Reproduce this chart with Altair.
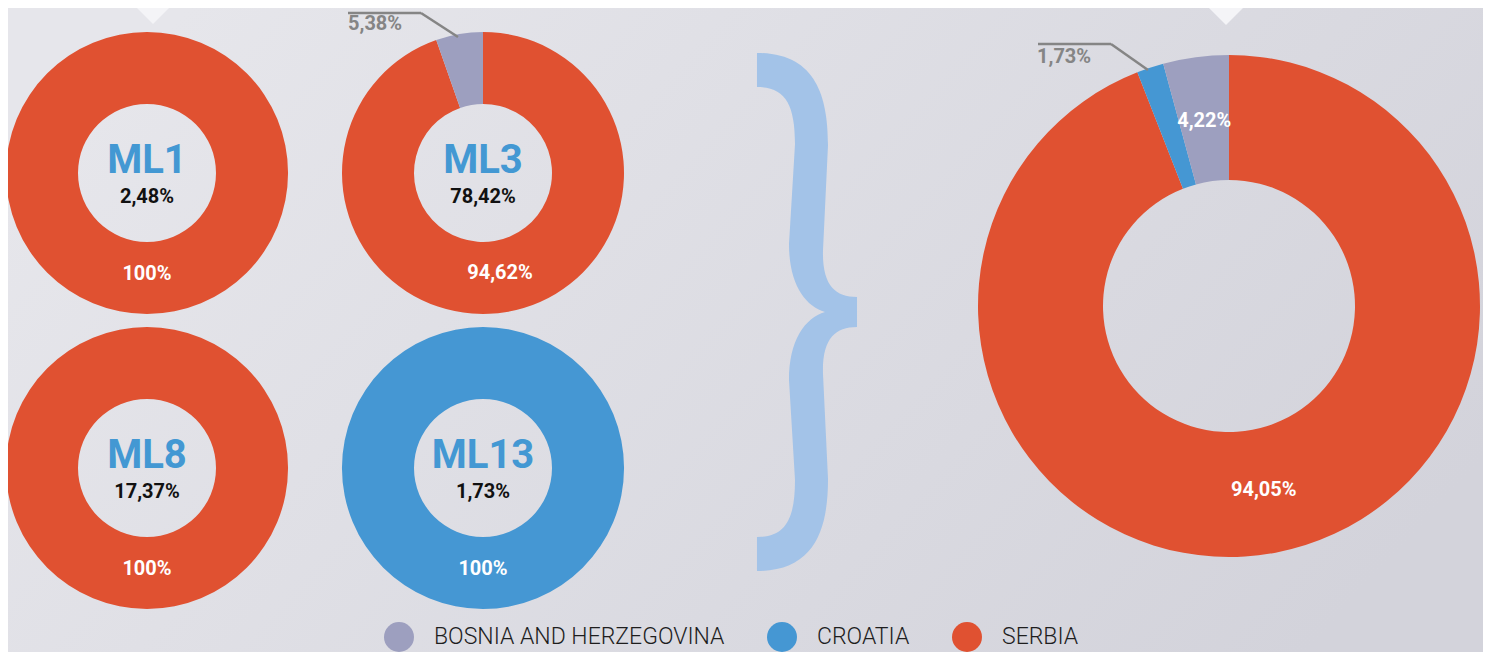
import altair as alt
import pandas as pd

# ---------------- data ----------------
countries = ["BOSNIA AND HERZEGOVINA", "CROATIA", "SERBIA"]
country_colors = ["#9d9fbf", "#4597d3", "#e05131"]

ml_names = ["ML1", "ML3", "ML8", "ML13"]
ml_shares = [2.48, 78.42, 17.37, 1.73]

donut_names = ["ML1", "ML3", "ML8", "ML13", "TOTAL"]
serbia_pct = [100.0, 94.62, 100.0, 0.0, 94.05]
croatia_pct = [0.0, 0.0, 0.0, 100.0, 1.73]
bosnia_pct = [0.0, 5.38, 0.0, 0.0, 4.22]

# slices whose value is written outside the ring with a leader line
outside_slices = [("ML3", "BOSNIA AND HERZEGOVINA"), ("TOTAL", "CROATIA")]

# ---------------- layout (page pixels) ----------------
OFF = 8  # page margin
W, H = 1491 - 2 * OFF, 660 - 2 * OFF
CENTERS = {"ML1": (147, 173), "ML3": (483, 173), "ML8": (147, 468),
           "ML13": (483, 468), "TOTAL": (1229, 306)}
OUT_LABELS = {
    ("ML3", "BOSNIA AND HERZEGOVINA"): {"tx": 348, "ty": 24,
                                        "line": [(348, 13), (421, 13), (458, 37)]},
    ("TOTAL", "CROATIA"): {"tx": 1037, "ty": 57,
                           "line": [(1038, 44), (1111, 44), (1148, 70)]},
}
FONT = "Roboto"


def fmt(v):
    return "100%" if v == 100 else f"{v:.2f}".replace(".", ",") + "%"


rows = []
for i, d in enumerate(donut_names):
    cum = 0.0
    for c, v in (("SERBIA", serbia_pct[i]), ("CROATIA", croatia_pct[i]),
                 ("BOSNIA AND HERZEGOVINA", bosnia_pct[i])):
        if v <= 0:
            continue
        cx, cy = CENTERS[d]
        rows.append({"donut": d, "country": c, "value": v, "start": cum,
                     "end": cum + v, "mid": cum + v / 2, "label": fmt(v),
                     "cx": cx - OFF, "cy": cy - OFF,
                     "outside": (d, c) in outside_slices})
        cum += v
df = pd.DataFrame(rows)
df_small = df[df.donut != "TOTAL"]
df_big = df[df.donut == "TOTAL"]

out_rows, seg_rows = [], []
for (d, c), lay in OUT_LABELS.items():
    r = df[(df.donut == d) & (df.country == c)].iloc[0]
    out_rows.append({"label": r["label"], "tx": lay["tx"] - OFF, "ty": lay["ty"] - OFF})
    pts = lay["line"]
    for (x1, y1), (x2, y2) in zip(pts[:-1], pts[1:]):
        seg_rows.append({"x1": x1 - OFF, "y1": y1 - OFF, "x2": x2 - OFF, "y2": y2 - OFF})
df_out = pd.DataFrame(out_rows)
df_seg = pd.DataFrame(seg_rows)

df_center = pd.DataFrame({
    "name": ml_names,
    "share": [fmt(v) for v in ml_shares],
    "cx": [CENTERS[n][0] - OFF for n in ml_names],
    "cy": [CENTERS[n][1] - OFF for n in ml_names],
})

# ---------------- encodings ----------------
theta_scale = alt.Scale(domain=[0, 100], range=[0, 6.283185307179586])
color_scale = alt.Scale(domain=countries, range=country_colors)
X = alt.X("cx:Q", scale=None, axis=None)
Y = alt.Y("cy:Q", scale=None, axis=None)

legend = alt.Legend(title=None, orient="none", legendX=376, legendY=614,
                    direction="horizontal", symbolType="circle", symbolSize=900,
                    symbolStrokeWidth=0, symbolOpacity=1, labelFont=FONT,
                    labelFontWeight=300, labelFontSize=23, labelColor="#1e1e1e",
                    labelOffset=20, columnPadding=42, labelLimit=0, padding=0)

bg = alt.Chart(pd.DataFrame({"k": [0]})).mark_rect(
    fill=alt.Gradient(gradient="linear",
                      stops=[alt.GradientStop(offset=0, color="#e6e6eb"),
                             alt.GradientStop(offset=1, color="#d3d3db")],
                      x1=0, y1=0.3, x2=1, y2=0.7)
).encode(x=alt.value(0), x2=alt.value(W), y=alt.value(0), y2=alt.value(H))

tri_path = "M-1,-1L1,-1L0,0Z"
triangles = alt.Chart(pd.DataFrame({"k": [0]})).mark_point(
    shape=tri_path, size=52 * 52, filled=True, fill="#f4f4f7", opacity=1, strokeWidth=0)
tri1 = triangles.encode(x=alt.value(153 - OFF), y=alt.value(24 - OFF))
tri2 = triangles.encode(x=alt.value(1226 - OFF), y=alt.value(25 - OFF))

# curly brace outline in page pixels, converted to a unit symbol path
BR_CX, BR_CY, BR_HALF = 807, 312, 259
brace_cmds = [
    ("M", [(757, 53)]),
    ("C", [(815, 53), (828, 95), (828, 145)]),
    ("L", [(823, 250)]),
    ("C", [(822, 285), (835, 297), (857, 297)]),
    ("L", [(857, 327)]),
    ("C", [(835, 327), (822, 339), (823, 374)]),
    ("L", [(828, 479)]),
    ("C", [(828, 529), (815, 571), (757, 571)]),
    ("L", [(757, 537)]),
    ("C", [(785, 537), (795, 520), (795, 480)]),
    ("L", [(789, 380)]),
    ("C", [(789, 340), (805, 318), (825, 312)]),
    ("C", [(805, 306), (789, 284), (789, 244)]),
    ("L", [(795, 144)]),
    ("C", [(795, 104), (785, 87), (757, 87)]),
]
parts = []
for cmd, pts in brace_cmds:
    coords = " ".join(f"{(x - BR_CX) / BR_HALF:.4f},{(y - BR_CY) / BR_HALF:.4f}" for x, y in pts)
    parts.append(f"{cmd}{coords}")
brace_path = " ".join(parts) + " Z"
brace = alt.Chart(pd.DataFrame({"k": [0]})).mark_point(
    shape=brace_path, size=(2 * BR_HALF) ** 2, filled=True, fill="#a3c3e8",
    opacity=1, strokeWidth=0
).encode(x=alt.value(BR_CX - OFF), y=alt.value(BR_CY - OFF))

arc_enc = dict(x=X, y=Y,
               theta=alt.Theta("start:Q", scale=theta_scale),
               theta2="end:Q",
               color=alt.Color("country:N", scale=color_scale, legend=legend))

arcs_small = alt.Chart(df_small).mark_arc(outerRadius=141, innerRadius=69).encode(**arc_enc)
arcs_big = alt.Chart(df_big).mark_arc(outerRadius=251, innerRadius=126).encode(**arc_enc)

lab_enc = dict(x=X, y=Y, theta=alt.Theta("mid:Q", scale=theta_scale), text="label:N")
lab_small = alt.Chart(df_small[~df_small.outside]).mark_text(
    radius=101, font=FONT, fontWeight="bold", fontSize=20, color="white",
    baseline="middle").encode(**lab_enc)
lab_big = alt.Chart(df_big[~df_big.outside]).mark_text(
    radius=187, font=FONT, fontWeight="bold", fontSize=20, color="white",
    baseline="middle").encode(**lab_enc)

center_name = alt.Chart(df_center).mark_text(
    font=FONT, fontWeight="bold", fontSize=40, color="#4398d3", baseline="middle",
    dy=-12).encode(x=X, y=Y, text="name:N")
center_share = alt.Chart(df_center).mark_text(
    font=FONT, fontWeight="bold", fontSize=20, color="#111111", baseline="middle",
    dy=24).encode(x=X, y=Y, text="share:N")

leaders = alt.Chart(df_seg).mark_rule(color="#858585", strokeWidth=2.5).encode(
    x=alt.X("x1:Q", scale=None, axis=None), y=alt.Y("y1:Q", scale=None, axis=None),
    x2="x2:Q", y2="y2:Q")
out_text = alt.Chart(df_out).mark_text(
    font=FONT, fontWeight="bold", fontSize=20, color="#858585", align="left",
    baseline="middle").encode(
    x=alt.X("tx:Q", scale=None, axis=None), y=alt.Y("ty:Q", scale=None, axis=None),
    text="label:N")

chart = alt.layer(
    bg, tri1, tri2, brace, arcs_small, arcs_big, lab_small, lab_big,
    center_name, center_share, leaders, out_text
).properties(
    width=W, height=H, padding=0, autosize="none", background="#dfdfe5"
).configure_view(stroke=None)

chart.save("out.html", embed_options={"renderer": "svg", "actions": False})
